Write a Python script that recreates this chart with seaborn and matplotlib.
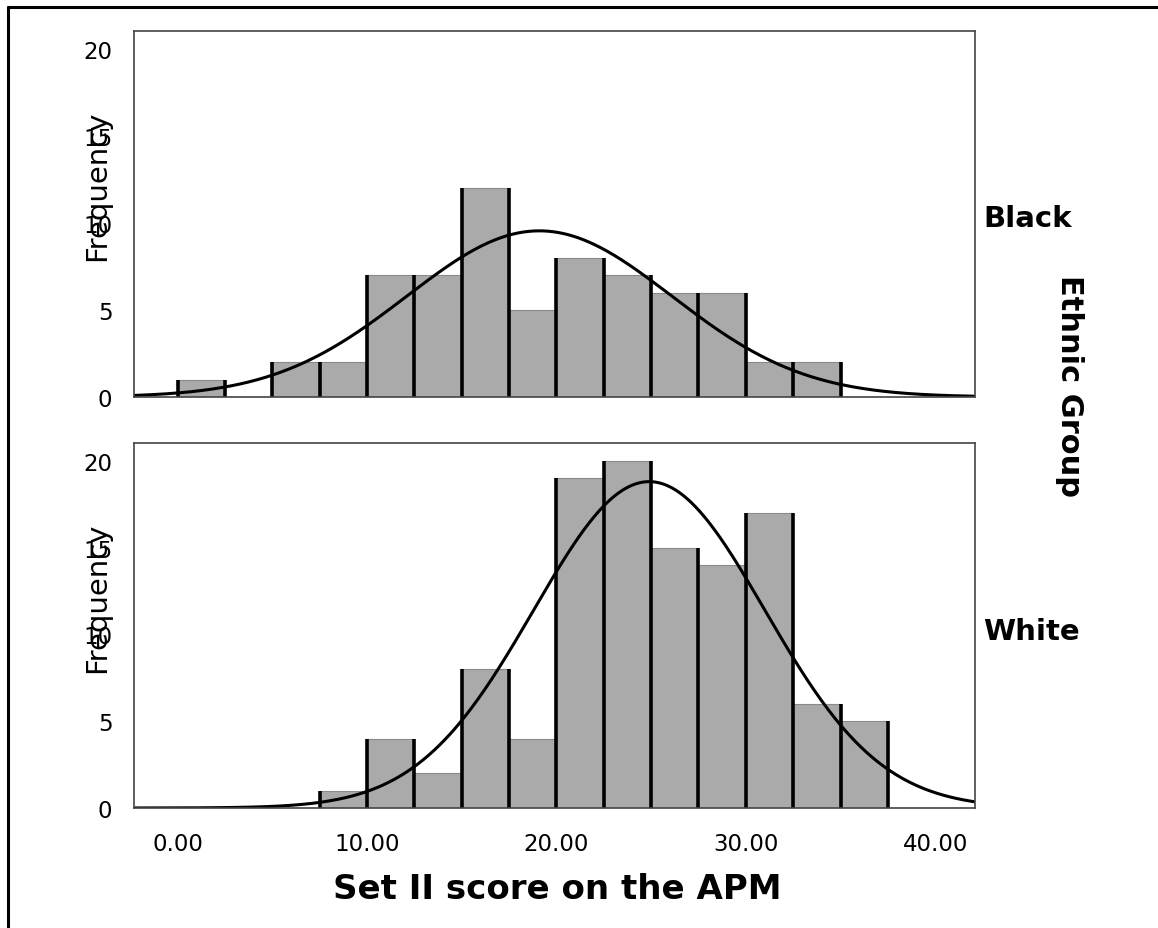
import numpy as np
import pandas as pd
import matplotlib.pyplot as plt
import seaborn as sns
from matplotlib.lines import Line2D

# bins of the histogram (width 2.5 from 0 to 40)
bin_edges = [0, 2.5, 5, 7.5, 10, 12.5, 15, 17.5, 20, 22.5, 25, 27.5, 30, 32.5, 35, 37.5, 40]
groups = ['Black', 'White']

# counts per bin
black_counts = [1, 0, 2, 2, 7, 7, 12, 5, 8, 7, 6, 6, 2, 2, 0, 0]
white_counts = [0, 0, 0, 1, 4, 2, 8, 4, 19, 20, 15, 14, 17, 6, 5, 0]

# fitted normal curves (mean, std dev)
black_mean, black_sd = 19.1, 7.0
white_mean, white_sd = 24.9, 6.1

x_ticks = [0, 10, 20, 30, 40]
y_ticks = [0, 5, 10, 15, 20]

sns.set_style('white')
plt.rcParams['font.family'] = ['DejaVu Sans']
plt.rcParams['text.color'] = 'black'
plt.rcParams['axes.labelcolor'] = 'black'

fig = plt.figure(figsize=(11.58, 9.29), dpi=100)
ax_top = fig.add_axes([0.1157, 0.5716, 0.7263, 0.394])
ax_bot = fig.add_axes([0.1157, 0.1292, 0.7263, 0.3929])

edges = np.array(bin_edges)
mids = (edges[:-1] + edges[1:]) / 2
bw = edges[1] - edges[0]

panels = [(ax_top, black_counts, black_mean, black_sd),
          (ax_bot, white_counts, white_mean, white_sd)]

for ax, counts, mu, sd in panels:
    df = pd.DataFrame({'score': mids, 'n': counts})
    df = df[df['n'] > 0]
    sns.histplot(data=df, x='score', weights='n', bins=list(bin_edges), ax=ax,
                 color='#aaaaaa', edgecolor='#8a8a8a', linewidth=0.8, alpha=1)
    # black bar sides
    padded = [0] + list(counts) + [0]
    for i, e in enumerate(edges):
        h = max(padded[i], padded[i + 1])
        if h > 0:
            ax.vlines(e, 0, h, color='black', linewidth=2.6)
    # normal curve
    xs = np.linspace(-2.3, 42.1, 500)
    ys = sum(counts) * bw * np.exp(-0.5 * ((xs - mu) / sd) ** 2) / (sd * np.sqrt(2 * np.pi))
    sns.lineplot(x=xs, y=ys, ax=ax, color='black', linewidth=2.2)

    ax.set_xlim(-2.3, 42.1)
    ax.set_ylim(0, 21.03)
    ax.set_yticks(y_ticks)
    ax.set_yticklabels([str(t) for t in y_ticks])
    ax.set_ylabel('Frequency', fontsize=21, va='center', color='black')
    ax.yaxis.set_label_coords(-0.044, 0.58)
    ax.set_xlabel('')
    for s in ax.spines.values():
        s.set_visible(True)
        s.set_color('#444444')
        s.set_linewidth(1.2)
    ax.tick_params(axis='both', direction='out', length=11.5, width=1,
                   color='#666666', labelcolor='black', labelsize=16.5, pad=4)

ax_top.set_xticks([])
ax_bot.set_xticks(x_ticks)
ax_bot.set_xticklabels(['%.2f' % t for t in x_ticks])
ax_bot.tick_params(axis='x', pad=6)

# facet labels
fig.text(0.849, 0.764, groups[0], fontsize=21, fontweight='bold', ha='left', va='center')
fig.text(0.849, 0.3197, groups[1], fontsize=21, fontweight='bold', ha='left', va='center')
fig.text(0.924, 0.5845, 'Ethnic Group', fontsize=22, fontweight='bold',
         rotation=270, ha='center', va='center')
fig.text(0.481, 0.042, 'Set II score on the APM', fontsize=24.5, fontweight='bold',
         ha='center', va='center')

# outer frame (top and left edges)
fig.add_artist(Line2D([0.0065, 1.0], [0.9914, 0.9914], color='black', linewidth=2.2))
fig.add_artist(Line2D([0.0065, 0.0065], [0.0, 0.9914], color='black', linewidth=2.2))

plt.savefig('out.png', dpi=100)
